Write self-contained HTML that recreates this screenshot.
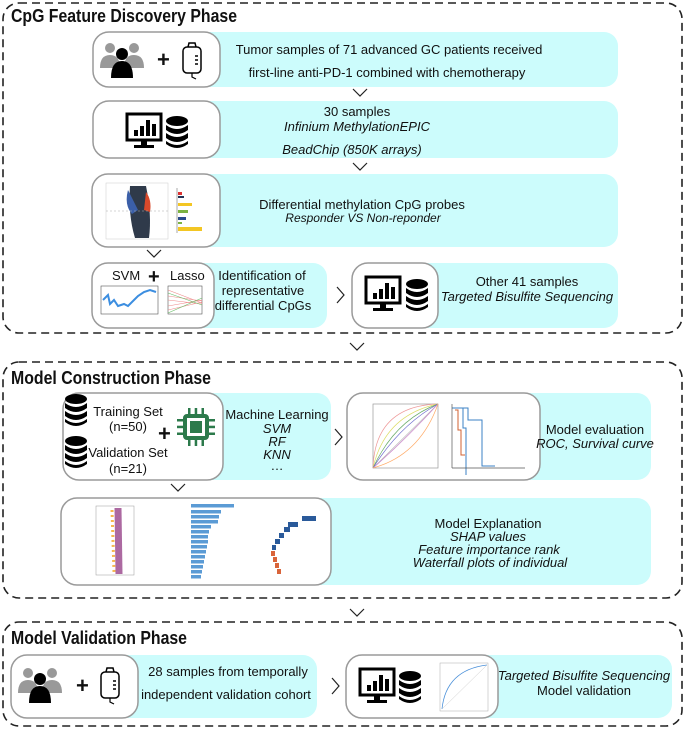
<!DOCTYPE html>
<html><head><meta charset="utf-8"><style>
html,body{margin:0;padding:0;background:#fff}
svg{display:block}
text{font-family:"Liberation Sans",sans-serif;fill:#111}
.t{font-size:13px}
.i{font-size:13px;font-style:italic}
.h{font-size:18px;font-weight:bold}
</style></head><body>
<svg width="685" height="729" viewBox="0 0 685 729" xmlns="http://www.w3.org/2000/svg">
<defs>
<g id="ppl">
 <circle cx="-12" cy="-12" r="5" fill="#999"/><path d="M-22 8 Q-22 -5 -12 -5 Q-2 -5 -2 8Z" fill="#999"/>
 <circle cx="12" cy="-12" r="5" fill="#999"/><path d="M2 8 Q2 -5 12 -5 Q22 -5 22 8Z" fill="#999"/>
 <circle cx="0" cy="-6" r="6" fill="#000"/><path d="M-11 18 Q-11 1 0 1 Q11 1 11 18Z" fill="#000"/>
</g>
<g id="bag">
 <rect x="-9" y="-13" width="18" height="26" rx="4" fill="#fff" stroke="#000" stroke-width="1.5"/>
 <path d="M-4 -13 L-3 -17 L3 -17 L4 -13" fill="none" stroke="#000" stroke-width="1.5"/>
 <line x1="3" y1="-4" x2="6" y2="-4" stroke="#000" stroke-width="1.5"/><line x1="3" y1="0" x2="6" y2="0" stroke="#000" stroke-width="1.5"/><line x1="3" y1="4" x2="6" y2="4" stroke="#000" stroke-width="1.5"/>
 <path d="M0 13 L0 17 L4 19" fill="none" stroke="#000" stroke-width="1.2"/>
</g>
<g id="mon">
 <rect x="-17" y="-14" width="34" height="26" fill="#fff" stroke="#000" stroke-width="3"/>
 <rect x="-10" y="2" width="4" height="6" fill="#000"/><rect x="-4" y="-2" width="4" height="10" fill="#000"/><rect x="2" y="-8" width="4" height="16" fill="#000"/><rect x="8" y="-4" width="4" height="12" fill="#000"/>
 <rect x="-3" y="12" width="6" height="5" fill="#000"/><rect x="-10" y="17" width="20" height="3" fill="#000"/>
</g>
<g id="db">
 <ellipse cx="0" cy="-10" rx="11" ry="5" fill="#000"/>
 <path d="M-11 -6 Q0 2 11 -6 L11 -1 Q0 7 -11 -1Z" fill="#000"/>
 <path d="M-11 2 Q0 10 11 2 L11 7 Q0 15 -11 7Z" fill="#000"/>
 <path d="M-11 10 Q0 18 11 10 L11 13 Q0 21 -11 13Z" fill="#000"/>
</g>
<path id="dn" d="M-7 -4 L0 3 L7 -4" fill="none" stroke="#222" stroke-width="1.2"/>
<path id="rt" d="M-3 -8 L4 0 L-3 8" fill="none" stroke="#222" stroke-width="1.2"/>
</defs>

<rect x="3" y="3" width="679" height="330" rx="16" fill="none" stroke="#222" stroke-width="1.6" stroke-dasharray="8,5"/>
<rect x="3" y="362" width="679" height="236" rx="16" fill="none" stroke="#222" stroke-width="1.6" stroke-dasharray="8,5"/>
<rect x="3" y="622" width="679" height="104" rx="16" fill="none" stroke="#222" stroke-width="1.6" stroke-dasharray="8,5"/>
<text class="h" x="11" y="22" textLength="226" lengthAdjust="spacingAndGlyphs">CpG Feature Discovery Phase</text>
<text class="h" x="11" y="384" textLength="200" lengthAdjust="spacingAndGlyphs">Model Construction Phase</text>
<text class="h" x="11" y="644" textLength="176" lengthAdjust="spacingAndGlyphs">Model Validation Phase</text>

<g fill="#ccfcfc">
<rect x="150" y="32" width="468" height="55" rx="14"/>
<rect x="150" y="101" width="468" height="57" rx="14"/>
<rect x="150" y="174" width="468" height="73" rx="14"/>
<rect x="150" y="263" width="177" height="65" rx="14"/>
<rect x="400" y="263" width="218" height="65" rx="14"/>
<rect x="180" y="393" width="151" height="87" rx="14"/>
<rect x="480" y="393" width="171" height="87" rx="14"/>
<rect x="280" y="498" width="371" height="87" rx="14"/>
<rect x="100" y="655" width="217" height="63" rx="14"/>
<rect x="440" y="655" width="232" height="63" rx="14"/>
</g>
<g fill="#fff" stroke="#9a9a9a" stroke-width="1.5">
<rect x="93" y="32" width="127" height="55" rx="16"/>
<rect x="93" y="101" width="127" height="57" rx="16"/>
<rect x="92" y="174" width="128" height="73" rx="16"/>
<rect x="92" y="263" width="122" height="65" rx="16"/>
<rect x="352" y="263" width="86" height="65" rx="16"/>
<rect x="63" y="393" width="160" height="87" rx="16"/>
<rect x="347" y="393" width="193" height="87" rx="16"/>
<rect x="61" y="498" width="270" height="87" rx="16"/>
<rect x="11" y="655" width="127" height="63" rx="16"/>
<rect x="346" y="655" width="152" height="63" rx="16"/>
</g>

<use href="#dn" x="360" y="93"/><use href="#dn" x="360" y="167"/><use href="#dn" x="154" y="254"/>
<use href="#rt" x="340" y="295"/><use href="#dn" x="357" y="347"/><use href="#rt" x="338" y="437"/>
<use href="#dn" x="178" y="488"/><use href="#dn" x="357" y="613"/><use href="#rt" x="335" y="686"/>

<use href="#ppl" x="122" y="60"/><text x="157" y="67" style="font-size:22px;font-weight:bold">+</text><use href="#bag" x="192" y="60"/>
<use href="#mon" x="144" y="128"/><use href="#db" x="177" y="131"/>
<g>
<rect x="106" y="183" width="62" height="56" fill="#fff" stroke="#ccc" stroke-width="0.5"/>
<path d="M130 186 Q128 215 135 238 L149 238 Q152 215 146 186Z" fill="#2f3a4a"/>
<path d="M128 190 Q124 205 132 214 L138 210 Z" fill="#3b5fa8"/>
<path d="M146 192 Q152 200 150 212 L144 210Z" fill="#d9492b"/>
<line x1="106" y1="211" x2="168" y2="211" stroke="#aaa" stroke-dasharray="2,2" stroke-width="0.5"/>
<rect x="178" y="192" width="4" height="3" fill="#d33"/><rect x="178" y="196" width="6" height="2" fill="#235"/>
<rect x="178" y="203" width="14" height="3" fill="#f3c623"/><rect x="178" y="210" width="10" height="3" fill="#7cb342"/>
<rect x="178" y="217" width="8" height="3" fill="#2a4b8d"/><rect x="178" y="222" width="4" height="2" fill="#7cb342"/>
<rect x="178" y="227" width="24" height="4" fill="#f3c623"/>
<line x1="177" y1="188" x2="177" y2="233" stroke="#555" stroke-width="0.5"/>
</g>
<text class="t" x="112" y="280">SVM</text><text x="148" y="283" style="font-size:20px;font-weight:bold">+</text><text class="t" x="170" y="280">Lasso</text>
<rect x="101" y="286" width="57" height="28" fill="#fff" stroke="#555" stroke-width="0.6"/>
<path d="M103 300 L108 295 L110 304 L114 300 L118 306 L124 304 L128 306 L134 300 L138 296 L144 292 L150 290 L156 292" fill="none" stroke="#3c8ee0" stroke-width="2"/>
<rect x="168" y="286" width="34" height="28" fill="#fff" stroke="#555" stroke-width="0.6"/>
<path d="M168 290 L202 303 M168 296 L202 301 M168 310 L202 302 M168 306 L202 300 M168 300 L202 304" stroke="#e88" stroke-width="0.6"/>
<path d="M168 293 L202 305 M168 313 L202 298" stroke="#6b6" stroke-width="0.6"/>
<use href="#mon" x="383" y="291"/><use href="#db" x="417" y="294"/>

<use href="#db" x="76" y="409"/><use href="#db" x="76" y="451"/>
<text x="158" y="441" style="font-size:22px;font-weight:bold">+</text>
<g fill="#2c7a4b">
<rect x="185" y="416" width="22" height="22" rx="2" fill="none" stroke="#2c7a4b" stroke-width="4"/>
<rect x="190" y="421" width="12" height="12"/>
<rect x="188" y="408" width="2.5" height="6"/><rect x="194.7" y="408" width="2.5" height="6"/><rect x="201.5" y="408" width="2.5" height="6"/>
<rect x="188" y="440" width="2.5" height="6"/><rect x="194.7" y="440" width="2.5" height="6"/><rect x="201.5" y="440" width="2.5" height="6"/>
<rect x="177" y="419" width="6" height="2.5"/><rect x="177" y="425.7" width="6" height="2.5"/><rect x="177" y="432.5" width="6" height="2.5"/>
<rect x="209" y="419" width="6" height="2.5"/><rect x="209" y="425.7" width="6" height="2.5"/><rect x="209" y="432.5" width="6" height="2.5"/>
</g>
<g stroke-width="0.7" fill="none">
<rect x="373" y="404" width="65" height="64" stroke="#999"/>
<line x1="373" y1="468" x2="438" y2="404" stroke="#bbb"/>
<path d="M373 468 Q375 406 438 404" stroke="#e99"/>
<path d="M373 468 Q385 415 438 404" stroke="#dd6"/>
<path d="M373 468 Q395 420 438 404" stroke="#6a6"/>
<path d="M373 468 Q400 425 438 404" stroke="#66c"/>
<path d="M373 468 Q405 440 438 404" stroke="#c8c"/>
<path d="M373 468 Q420 455 438 404" stroke="#fa6"/>
<path d="M452 408 L463 408 L463 428 L466 428 L466 475 M455 408 L468 408 L468 420 L482 420 L482 466 L495 466" stroke="#3b82c4" stroke-width="1"/>
<path d="M455 410 L458 410 L458 430 L461 430 L461 455 L465 455" stroke="#d06030" stroke-width="1"/>
<line x1="452" y1="404" x2="452" y2="468" stroke="#555"/><line x1="452" y1="468" x2="525" y2="468" stroke="#555"/>
</g>
<g>
<rect x="96" y="506" width="38" height="69" fill="#fff" stroke="#999" stroke-width="0.5"/>
<path d="M118 508 L119 574" stroke="#8a2a7a" stroke-width="7" opacity="0.7"/>
<path d="M112 510 L114 572" stroke="#f5a623" stroke-width="3" stroke-dasharray="2,3" opacity="0.8"/>
<g fill="#5b9bd5">
<rect x="191" y="504" width="43" height="3.5"/><rect x="191" y="510" width="30" height="3.5"/><rect x="191" y="515" width="28" height="3.5"/><rect x="191" y="520" width="27" height="3.5"/><rect x="191" y="525" width="20" height="3.5"/><rect x="191" y="530" width="18" height="3.5"/><rect x="191" y="535" width="17" height="3.5"/><rect x="191" y="540" width="17" height="3.5"/><rect x="191" y="545" width="16" height="3.5"/><rect x="191" y="550" width="15" height="3.5"/><rect x="191" y="555" width="14" height="3.5"/><rect x="191" y="560" width="13" height="3.5"/><rect x="191" y="565" width="12" height="3.5"/><rect x="191" y="570" width="11" height="3.5"/><rect x="191" y="575" width="10" height="3.5"/>
</g>
<g fill="#2a5a9a"><rect x="302" y="516" width="14" height="5"/><rect x="288" y="522" width="10" height="5"/><rect x="284" y="527" width="6" height="5"/><rect x="279" y="533" width="5" height="5"/><rect x="275" y="539" width="5" height="5"/><rect x="272" y="545" width="4" height="5"/></g>
<g fill="#d9643a"><rect x="271" y="551" width="4" height="5"/><rect x="273" y="557" width="4" height="5"/><rect x="275" y="563" width="4" height="5"/><rect x="277" y="569" width="4" height="5"/></g>
</g>
<use href="#ppl" x="40" y="685"/><text x="76" y="693" style="font-size:22px;font-weight:bold">+</text><use href="#bag" x="110" y="685"/>
<use href="#mon" x="377" y="683"/><use href="#db" x="410" y="686"/>
<rect x="440" y="663" width="48" height="48" fill="#fff" stroke="#aaa" stroke-width="0.5"/>
<path d="M442 709 Q446 670 487 665" fill="none" stroke="#4a90d9" stroke-width="0.8"/>
<line x1="442" y1="709" x2="487" y2="665" stroke="#ccc" stroke-width="0.5"/>

<g text-anchor="middle">
<text class="t" x="389" y="54">Tumor samples of 71 advanced GC patients received</text>
<text class="t" x="387" y="77">first-line anti-PD-1 combined with chemotherapy</text>
<text class="t" x="357" y="116">30 samples</text>
<text class="i" x="357" y="131">Infinium MethylationEPIC</text>
<text class="i" x="352" y="154">BeadChip (850K arrays)</text>
<text class="t" x="362" y="209">Differential methylation CpG probes</text>
<text class="i" x="363" y="222" style="font-size:12px">Responder VS Non-reponder</text>
<text class="t" x="262" y="280">Identification of</text>
<text class="t" x="263" y="295">representative</text>
<text class="t" x="263" y="310">differential CpGs</text>
<text class="t" x="527" y="286">Other 41 samples</text>
<text class="i" x="527" y="301">Targeted Bisulfite Sequencing</text>
<text class="t" x="128" y="416">Training Set</text>
<text class="t" x="128" y="431">(n=50)</text>
<text class="t" x="128" y="457">Validation Set</text>
<text class="t" x="128" y="473">(n=21)</text>
<text class="t" x="277" y="419">Machine Learning</text>
<text class="i" x="277" y="433">SVM</text>
<text class="i" x="277" y="446">RF</text>
<text class="i" x="277" y="459">KNN</text>
<text class="t" x="277" y="470">…</text>
<text class="t" x="595" y="434">Model evaluation</text>
<text class="i" x="595" y="448">ROC, Survival curve</text>
<text class="t" x="488" y="528">Model Explanation</text>
<text class="i" x="488" y="541">SHAP values</text>
<text class="i" x="489" y="554">Feature importance rank</text>
<text class="i" x="490" y="567">Waterfall plots of individual</text>
<text class="t" x="228" y="676">28 samples from temporally</text>
<text class="t" x="226" y="699">independent validation cohort</text>
<text class="i" x="584" y="680">Targeted Bisulfite Sequencing</text>
<text class="t" x="584" y="695">Model validation</text>
</g>
</svg>
</body></html>
